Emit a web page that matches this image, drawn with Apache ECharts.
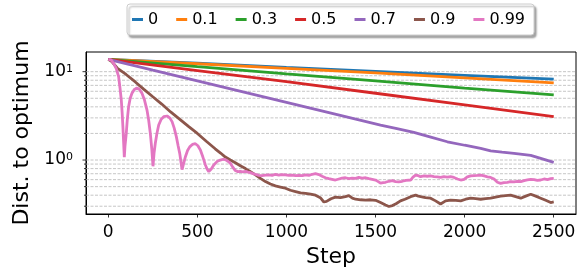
<!DOCTYPE html>
<html>
<head>
<meta charset="utf-8">
<script src="https://cdn.jsdelivr.net/npm/echarts@6.0.0/dist/echarts.min.js"></script>
<style>
html,body{margin:0;padding:0;background:#fff;}
#chart{width:582px;height:270px;}
</style>
</head>
<body>
<div id="chart"></div>
<script>
// ---- data ----
const seriesNames = ['0', '0.1', '0.3', '0.5', '0.7', '0.9', '0.99'];
const colors = ['#1f77b4', '#ff7f0e', '#2ca02c', '#d62728', '#9467bd', '#8c564b', '#e377c2'];
const xTickLabels = [0, 500, 1000, 1500, 2000, 2500];
const yMajorTicks = [1, 10];
const yMinorTicks = [0.3, 0.4, 0.5, 0.6, 0.7, 0.8, 0.9, 2, 3, 4, 5, 6, 7, 8, 9];

const stepsLinear = [0, 500, 1000, 1500, 2000, 2500];
const beta0 = [13.8, 12.5, 11.2, 10.1, 9.1, 8.25];
const beta01 = [13.8, 12.3, 10.9, 9.7, 8.5, 7.45];
const beta03 = [13.8, 11.4, 9.45, 7.85, 6.5, 5.45];
const beta05 = [13.8, 10.3, 7.7, 5.7, 4.2, 3.1];

const stepsB07 = [0, 250, 500, 750, 1000, 1250, 1528, 1620, 1715, 1810, 1903, 2000, 2090, 2146, 2210, 2277, 2371, 2427, 2500];
const beta07 = [13.8, 10.4, 7.87, 5.95, 4.5, 3.4, 2.49, 2.27, 2.06, 1.82, 1.61, 1.47, 1.355, 1.27, 1.23, 1.19, 1.13, 1.045, 0.94];

const stepsB09 = [0, 20, 50, 100, 150, 200, 250, 300, 350, 400, 450, 500, 550, 600, 630, 657, 685, 713, 741, 770, 798, 826, 854, 882, 910, 938, 966, 994, 1022, 1051, 1079, 1107, 1135, 1163, 1190, 1210, 1225, 1250, 1275, 1303, 1331, 1350, 1370, 1388, 1416, 1444, 1472, 1500, 1528, 1556, 1575, 1595, 1615, 1640, 1665, 1697, 1725, 1740, 1753, 1780, 1809, 1837, 1865, 1893, 1921, 1950, 1978, 2006, 2034, 2062, 2090, 2118, 2146, 2174, 2202, 2230, 2258, 2286, 2315, 2343, 2371, 2399, 2427, 2455, 2483, 2500];
const beta09 = [13.8, 13.0, 11.0, 9.3, 7.7, 6.3, 5.2, 4.3, 3.5, 2.9, 2.4, 2.0, 1.63, 1.34, 1.2, 1.08, 1.0, 0.93, 0.86, 0.80, 0.74, 0.68, 0.62, 0.57, 0.535, 0.51, 0.495, 0.48, 0.455, 0.44, 0.425, 0.42, 0.41, 0.40, 0.375, 0.335, 0.34, 0.365, 0.38, 0.375, 0.385, 0.395, 0.37, 0.36, 0.355, 0.352, 0.355, 0.35, 0.33, 0.31, 0.298, 0.305, 0.32, 0.345, 0.36, 0.385, 0.40, 0.39, 0.385, 0.375, 0.37, 0.345, 0.318, 0.345, 0.352, 0.35, 0.345, 0.36, 0.37, 0.365, 0.36, 0.365, 0.37, 0.38, 0.39, 0.395, 0.40, 0.385, 0.37, 0.39, 0.41, 0.39, 0.37, 0.35, 0.33, 0.335];

const stepsB099 = [0, 15, 30, 45, 58, 66, 73, 78, 82, 86, 90, 94, 101, 107, 114, 123, 133, 146, 161, 175, 189, 203, 217, 227, 236, 244, 251, 257, 264, 273, 283, 297, 311, 330, 345, 358, 370, 382, 392, 401, 408, 414, 422, 433, 445, 457, 472, 489, 503, 517, 531, 545, 556, 564, 578, 592, 610, 629, 645, 657, 671, 685, 699, 713, 727, 741, 755, 770, 784, 798, 812, 826, 845, 863, 882, 901, 920, 938, 957, 975, 994, 1013, 1032, 1051, 1070, 1089, 1107, 1126, 1145, 1163, 1182, 1200, 1219, 1238, 1256, 1275, 1294, 1312, 1331, 1350, 1369, 1388, 1406, 1425, 1444, 1463, 1481, 1500, 1515, 1528, 1542, 1556, 1575, 1594, 1612, 1630, 1650, 1670, 1697, 1710, 1725, 1740, 1753, 1772, 1790, 1809, 1828, 1847, 1865, 1884, 1902, 1921, 1940, 1960, 1978, 1997, 2015, 2034, 2053, 2072, 2090, 2110, 2128, 2146, 2165, 2184, 2202, 2220, 2240, 2258, 2277, 2296, 2315, 2334, 2352, 2371, 2390, 2408, 2427, 2446, 2465, 2483, 2500];
const beta099 = [13.8, 13.6, 12.4, 10.8, 8.8, 6.5, 4.8, 3.4, 2.4, 1.6, 1.08, 1.45, 2.0, 2.9, 4.0, 5.0, 5.7, 6.3, 6.55, 6.3, 5.7, 4.8, 3.7, 2.8, 2.0, 1.35, 0.85, 1.2, 1.55, 2.0, 2.49, 2.9, 3.09, 3.15, 3.0, 2.72, 2.3, 1.84, 1.45, 1.19, 0.95, 0.78, 0.9, 1.09, 1.28, 1.41, 1.5, 1.53, 1.45, 1.3, 1.08, 0.88, 0.78, 0.74, 0.79, 0.88, 0.96, 1.0, 1.02, 1.01, 0.97, 0.92, 0.83, 0.76, 0.74, 0.745, 0.735, 0.745, 0.73, 0.72, 0.70, 0.69, 0.67, 0.665, 0.675, 0.68, 0.67, 0.69, 0.675, 0.685, 0.68, 0.67, 0.675, 0.665, 0.67, 0.665, 0.68, 0.67, 0.69, 0.70, 0.685, 0.655, 0.63, 0.615, 0.605, 0.594, 0.61, 0.625, 0.63, 0.615, 0.625, 0.62, 0.635, 0.625, 0.63, 0.615, 0.605, 0.594, 0.57, 0.548, 0.555, 0.56, 0.575, 0.585, 0.57, 0.565, 0.575, 0.59, 0.594, 0.64, 0.676, 0.665, 0.647, 0.66, 0.655, 0.66, 0.65, 0.645, 0.635, 0.65, 0.64, 0.647, 0.635, 0.61, 0.594, 0.605, 0.645, 0.66, 0.665, 0.67, 0.676, 0.66, 0.645, 0.635, 0.61, 0.56, 0.544, 0.555, 0.56, 0.57, 0.565, 0.575, 0.57, 0.585, 0.595, 0.605, 0.6, 0.59, 0.594, 0.61, 0.6, 0.615, 0.62];

const X_MIN = -125, X_MAX = 2625;
const Y_MIN = 0.245, Y_MAX = 16.7;

// ---- build ----
const FONT = 'DejaVu Sans';
const zip = (xs, ys) => xs.map((x, i) => [x, ys[i]]);
const lineData = [
  zip(stepsLinear, beta0), zip(stepsLinear, beta01), zip(stepsLinear, beta03), zip(stepsLinear, beta05),
  zip(stepsB07, beta07), zip(stepsB09, beta09), zip(stepsB099, beta099)
];

const gridVals = yMinorTicks.concat(yMajorTicks).map(v => [0, v]);

const series = [{
  type: 'custom',
  name: 'grid',
  z: 1,
  clip: false,
  silent: true,
  encode: { x: 0, y: 1 },
  data: gridVals,
  renderItem: function (params, api) {
    const v = api.value(1);
    const p0 = api.coord([X_MIN, v]);
    const p1 = api.coord([X_MAX, v]);
    const len = yMajorTicks.indexOf(v) >= 0 ? 3.5 : 2;
    return {
      type: 'group',
      children: [
        { type: 'line', shape: { x1: p0[0], y1: p0[1], x2: p1[0], y2: p1[1] },
          style: { stroke: '#b8b8b8', lineWidth: 0.8, lineDash: [3, 1.5] } },
        { type: 'line', shape: { x1: p0[0] - len, y1: p0[1], x2: p0[0], y2: p0[1] },
          style: { stroke: '#000', lineWidth: 0.8 } }
      ]
    };
  }
}];

seriesNames.forEach((n, i) => {
  series.push({
    type: 'line',
    name: n,
    data: lineData[i],
    showSymbol: false,
    symbol: 'none',
    z: 2,
    lineStyle: { color: colors[i], width: 2.8 },
    itemStyle: { color: colors[i] },
    animation: false
  });
});

const chart = echarts.init(document.getElementById('chart'), null, { renderer: 'canvas' });
chart.setOption({
  animation: false,
  backgroundColor: '#fff',
  textStyle: { fontFamily: FONT },
  grid: {
    left: 86, right: 6, top: 52, bottom: 56,
    show: true, borderColor: '#000', borderWidth: 1,
    containLabel: false, outerBoundsMode: 'none'
  },
  legend: {
    data: seriesNames,
    left: 127, top: 4,
    padding: [7, 9, 7, 5],
    itemGap: 18,
    itemWidth: 11, itemHeight: 3,
    icon: 'rect',
    selectedMode: false,
    backgroundColor: '#fff',
    borderColor: '#cccccc', borderWidth: 1, borderRadius: 3,
    shadowColor: 'rgba(0,0,0,0.35)', shadowBlur: 2, shadowOffsetX: 2, shadowOffsetY: 2.5,
    textStyle: { fontFamily: FONT, fontSize: 16, color: '#000', lineHeight: 17 }
  },
  xAxis: {
    type: 'value',
    min: X_MIN, max: X_MAX,
    name: 'Step',
    nameLocation: 'middle',
    nameGap: 32,
    nameTextStyle: { fontFamily: FONT, fontSize: 22, color: '#000' },
    axisLine: { show: true, onZero: false, lineStyle: { color: '#000', width: 1 } },
    axisTick: { show: true, length: 3.5, inside: false, customValues: xTickLabels, lineStyle: { color: '#000', width: 0.8 } },
    axisLabel: { customValues: xTickLabels, fontFamily: FONT, fontSize: 17, color: '#000', margin: 10,
      formatter: function (v) { return String(v); } },
    splitLine: { show: false }
  },
  yAxis: {
    type: 'log',
    logBase: 10,
    min: Y_MIN, max: Y_MAX,
    name: 'Dist. to optimum',
    nameLocation: 'middle',
    nameGap: 50,
    nameTextStyle: { fontFamily: FONT, fontSize: 22, color: '#000' },
    axisLine: { show: true, onZero: false, lineStyle: { color: '#000', width: 1 } },
    axisTick: { show: false },
    splitLine: { show: false },
    axisLabel: {
      showMinLabel: false, showMaxLabel: false,
      margin: 13,
      fontFamily: FONT, fontSize: 17, color: '#000',
      formatter: function (v) {
        const e = Math.round(Math.log10(v));
        return '10{s|' + e + '}';
      },
      rich: {
        s: { fontFamily: FONT, fontSize: 11, color: '#000', verticalAlign: 'top', lineHeight: 11 }
      }
    }
  },
  series: series
});
</script>
</body>
</html>
